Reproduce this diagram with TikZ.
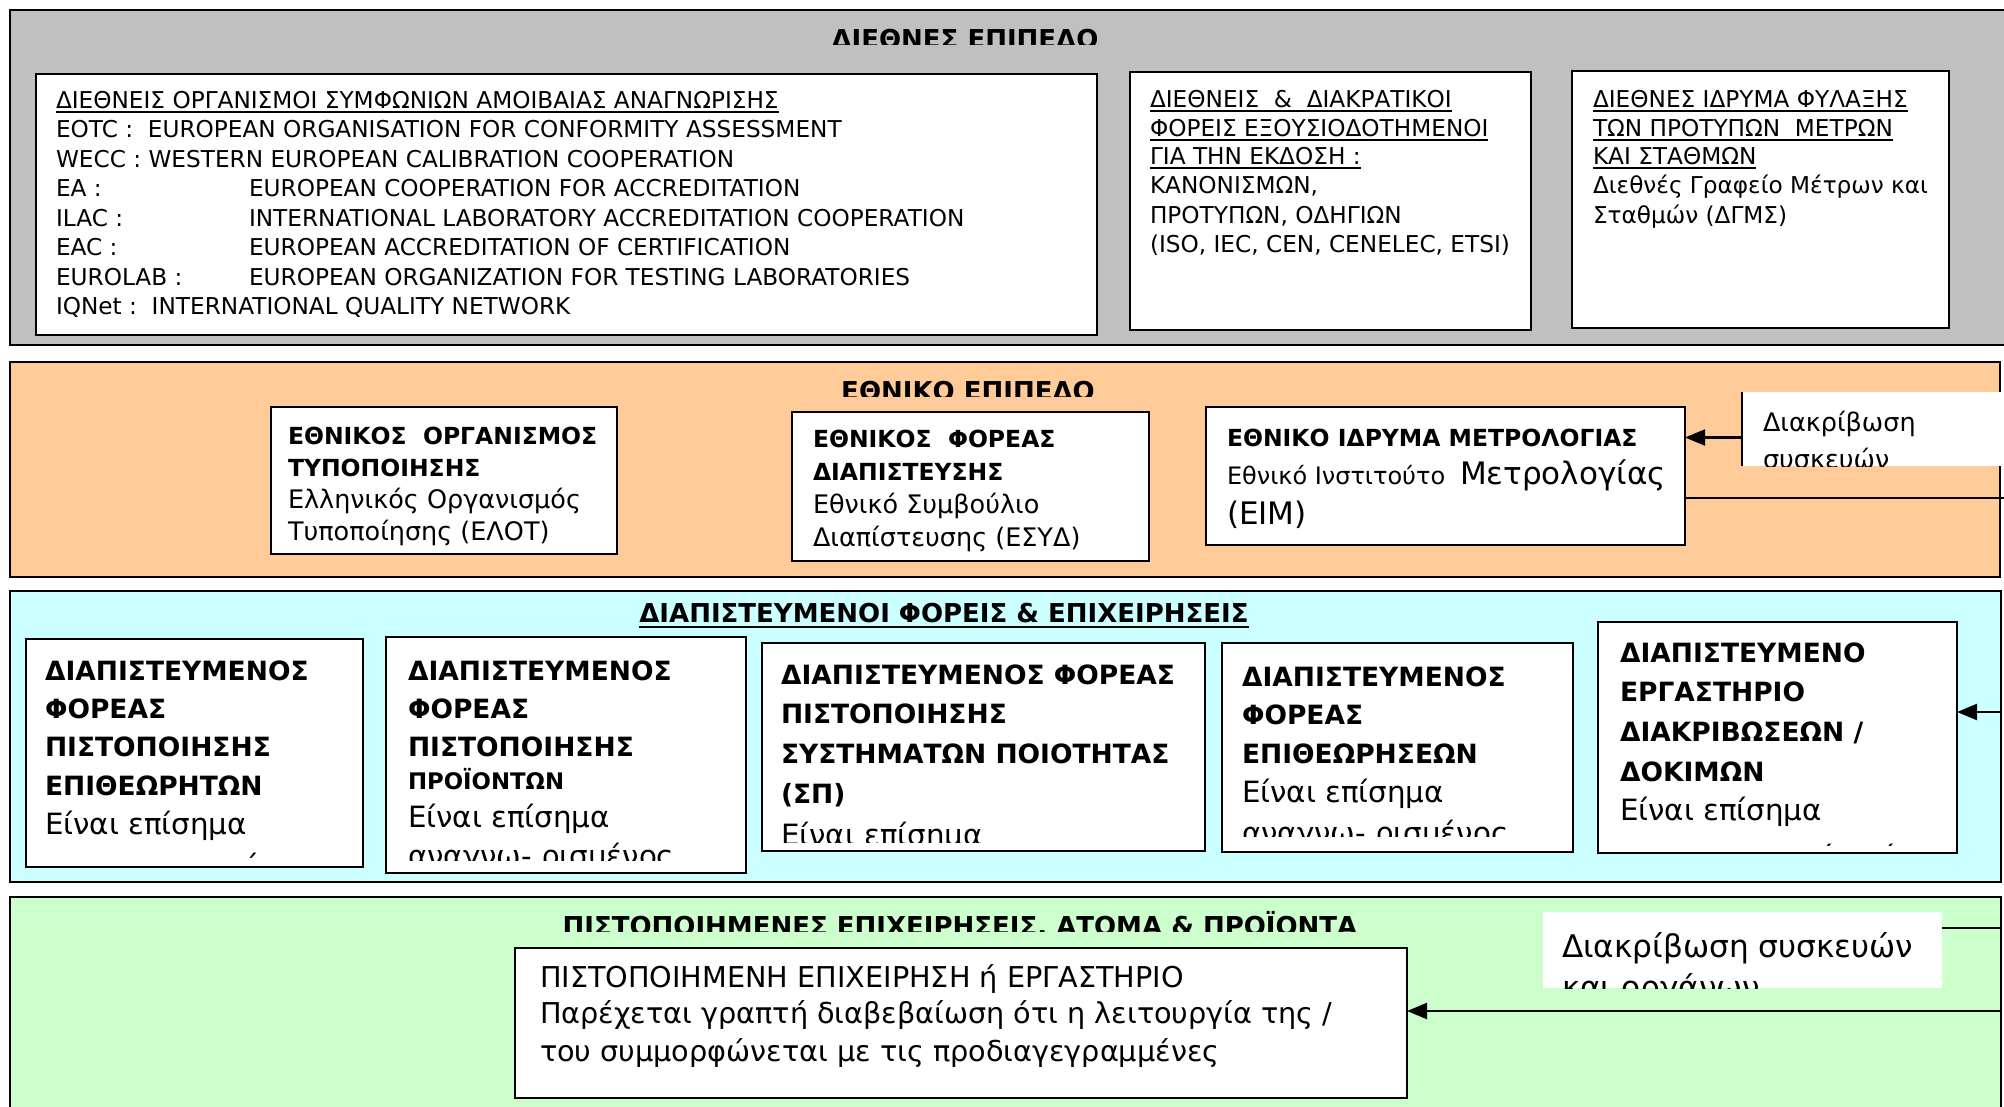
\documentclass[tikz,border=0pt]{standalone}
\usepackage{fontspec}
\setmainfont{DejaVu Sans}
\usetikzlibrary{arrows.meta}
\definecolor{bandgray}{HTML}{C0C0C0}
\definecolor{bandorange}{HTML}{FFCC99}
\definecolor{bandcyan}{HTML}{CCFFFF}
\definecolor{bandgreen}{HTML}{CCFFCC}
\newcommand\tln[5]{\node[tl,#4] (#1) at (#2,#3) {#5};}
\newcommand\uln[1]{\draw[ulstyle] ([yshift=-4pt]#1.base west) -- ([yshift=-4pt]#1.base east);}
\begin{document}
\begin{tikzpicture}[x=1pt,y=-1pt,
  tl/.style={inner sep=0pt,outer sep=0pt,anchor=base west,text=black},
  ctl/.style={inner sep=0pt,outer sep=0pt,anchor=base,text=black},
  band/.style={draw=black,line width=2pt,anchor=north west,inner sep=0pt,outer sep=0pt},
  box/.style={draw=black,line width=2pt,fill=white,anchor=north west,inner sep=0pt,outer sep=0pt},
  plainbox/.style={fill=white,anchor=north west,inner sep=0pt,outer sep=0pt},
  ulstyle/.style={line width=1.5pt},
  conn/.style={line width=2.2pt},
  arr/.style={line width=2.2pt,-{Triangle[length=20pt,width=16pt]}},
  fA/.style={font=\fontsize{23.2}{27}\selectfont},
  fTitle/.style={font=\fontsize{26}{30}\selectfont\bfseries},
  fNb/.style={font=\fontsize{23.5}{28}\selectfont\bfseries},
  fNr/.style={font=\fontsize{25.5}{30}\selectfont},
  fF/.style={font=\fontsize{24}{29}\selectfont},
  fBig/.style={font=\fontsize{31}{36}\selectfont},
  fG/.style={font=\fontsize{25.5}{30}\selectfont},
  fHb/.style={font=\fontsize{26.5}{31}\selectfont\bfseries},
  fHs/.style={font=\fontsize{22.8}{27}\selectfont\bfseries},
  fHr/.style={font=\fontsize{29.3}{34}\selectfont},
  fI/.style={font=\fontsize{28.7}{34}\selectfont},
  fJ/.style={font=\fontsize{31.2}{36}\selectfont}]
\useasboundingbox (0,0) rectangle (2004,1106);
\clip (0,0) rectangle (2004,1106);
\fill[white] (0,0) rectangle (2004,1106);

% bands
\node[band,fill=bandgray,minimum width=2010pt,minimum height=335pt] (gray) at (10,10) {};
\node[band,fill=bandorange,minimum width=1990pt,minimum height=215pt] (orange) at (10,362) {};
\node[band,fill=bandcyan,minimum width=1991pt,minimum height=291pt] (cyan) at (10,591) {};
\node[band,fill=bandgreen,minimum width=1991pt,minimum height=230pt] (green) at (10,897) {};

% boxes
\node[box,minimum width=1061pt,minimum height=261pt] (A) at (36,74) {};
\node[box,minimum width=401pt,minimum height=258pt] (B) at (1130,72) {};
\node[box,minimum width=377pt,minimum height=257pt] (C) at (1572,71) {};
\node[box,minimum width=346pt,minimum height=147pt] (D) at (271,407) {};
\node[box,minimum width=357pt,minimum height=149pt] (E) at (792,412) {};
\node[box,minimum width=479pt,minimum height=138pt] (F) at (1206,407) {};
\node[plainbox,minimum width=280pt,minimum height=74pt] (G) at (1742,392) {};
\draw[line width=2pt] (G.north west) -- (G.south west);
\node[box,minimum width=337pt,minimum height=228pt] (H1) at (26,639) {};
\node[box,minimum width=360pt,minimum height=236pt] (H2) at (386,637) {};
\node[box,minimum width=443pt,minimum height=208pt] (H3) at (762,643) {};
\node[box,minimum width=351pt,minimum height=209pt] (H4) at (1222,643) {};
\node[box,minimum width=359pt,minimum height=231pt] (H5) at (1598,622) {};
\node[box,minimum width=892pt,minimum height=150pt] (I) at (515,948) {};
\node[plainbox,minimum width=399pt,minimum height=76pt] (J) at (1543,912) {};

% titles
\begin{scope}
\clip (10,10) rectangle (2004,44);
\node[ctl,fTitle] (t1) at (965,48) {ΔΙΕΘΝΕΣ ΕΠΙΠΕΔΟ};
\end{scope}
\begin{scope}
\clip (10,362) rectangle (2000,396);
\node[ctl,fTitle] (t2) at (968,400) {ΕΘΝΙΚΟ ΕΠΙΠΕΔΟ};
\end{scope}
\node[ctl,fTitle] (t3) at (944,622) {ΔΙΑΠΙΣΤΕΥΜΕΝΟΙ ΦΟΡΕΙΣ \& ΕΠΙΧΕΙΡΗΣΕΙΣ};
\draw[line width=2pt] ([yshift=-5pt]t3.base west) -- ([yshift=-5pt]t3.base east);
\begin{scope}
\clip (10,897) rectangle (2001,931);
\node[ctl,fTitle] (t4) at (960,935) {ΠΙΣΤΟΠΟΙΗΜΕΝΕΣ ΕΠΙΧΕΙΡΗΣΕΙΣ, ΑΤΟΜΑ \& ΠΡΟΪΟΝΤΑ};
\end{scope}

% box A
\tln{a1}{56}{108}{fA}{ΔΙΕΘΝΕΙΣ ΟΡΓΑΝΙΣΜΟΙ ΣΥΜΦΩΝΙΩΝ ΑΜΟΙΒΑΙΑΣ ΑΝΑΓΝΩΡΙΣΗΣ}
\uln{a1}
\tln{a2}{56}{137}{fA}{EOTC :\ \ EUROPEAN ORGANISATION FOR CONFORMITY ASSESSMENT}
\tln{a3}{56}{167}{fA}{WECC : WESTERN EUROPEAN CALIBRATION COOPERATION}
\tln{a4}{56}{196}{fA}{EA :}
\tln{a4b}{249}{196}{fA}{EUROPEAN COOPERATION FOR ACCREDITATION}
\tln{a5}{56}{226}{fA}{ILAC :}
\tln{a5b}{249}{226}{fA}{INTERNATIONAL LABORATORY ACCREDITATION COOPERATION}
\tln{a6}{56}{255}{fA}{EAC :}
\tln{a6b}{249}{255}{fA}{EUROPEAN ACCREDITATION OF CERTIFICATION}
\tln{a7}{56}{285}{fA}{EUROLAB :}
\tln{a7b}{249}{285}{fA}{EUROPEAN ORGANIZATION FOR TESTING LABORATORIES}
\tln{a8}{56}{314}{fA}{IQNet :\ \ INTERNATIONAL QUALITY NETWORK}

% box B
\tln{b1}{1150}{107}{fA}{ΔΙΕΘΝΕΙΣ\ \ \&\ \ ΔΙΑΚΡΑΤΙΚΟΙ}
\uln{b1}
\tln{b2}{1150}{136}{fA}{ΦΟΡΕΙΣ ΕΞΟΥΣΙΟΔΟΤΗΜΕΝΟΙ}
\uln{b2}
\tln{b3}{1150}{164}{fA}{ΓΙΑ ΤΗΝ ΕΚΔΟΣΗ :}
\uln{b3}
\tln{b4}{1150}{193}{fA}{ΚΑΝΟΝΙΣΜΩΝ,}
\tln{b5}{1150}{223}{fA}{ΠΡΟΤΥΠΩΝ, ΟΔΗΓΙΩΝ}
\tln{b6}{1150}{252}{fA}{(ISO, IEC, CEN, CENELEC, ETSI)}

% box C
\tln{c1}{1593}{107}{fA}{ΔΙΕΘΝΕΣ ΙΔΡΥΜΑ ΦΥΛΑΞΗΣ}
\uln{c1}
\tln{c2}{1593}{136}{fA}{ΤΩΝ ΠΡΟΤΥΠΩΝ\ \ ΜΕΤΡΩΝ}
\uln{c2}
\tln{c3}{1593}{164}{fA}{ΚΑΙ ΣΤΑΘΜΩΝ}
\uln{c3}
\tln{c4}{1593}{193}{fA}{Διεθνές Γραφείο Μέτρων και}
\tln{c5}{1593}{223}{fA}{Σταθμών (ΔΓΜΣ)}

% box D
\tln{d1}{288}{444}{fNb}{ΕΘΝΙΚΟΣ\ \ ΟΡΓΑΝΙΣΜΟΣ}
\tln{d2}{288}{476}{fNb}{ΤΥΠΟΠΟΙΗΣΗΣ}
\tln{d3}{288}{508}{fNr}{Ελληνικός Οργανισμός}
\tln{d4}{288}{540}{fNr}{Τυποποίησης (ΕΛΟΤ)}

% box E
\tln{e1t}{813}{447}{fNb}{ΕΘΝΙΚΟΣ\ \ ΦΟΡΕΑΣ}
\tln{e2t}{813}{480}{fNb}{ΔΙΑΠΙΣΤΕΥΣΗΣ}
\tln{e3t}{813}{513}{fNr}{Εθνικό Συμβούλιο}
\tln{e4t}{813}{546}{fNr}{Διαπίστευσης (ΕΣΥΔ)}

% box F
\tln{f1}{1227}{446}{fNb}{ΕΘΝΙΚΟ ΙΔΡΥΜΑ ΜΕΤΡΟΛΟΓΙΑΣ}
\tln{f2}{1227}{484}{fF}{Εθνικό Ινστιτούτο}
\tln{f2b}{1460}{484}{fBig}{Μετρολογίας}
\tln{f3}{1227}{524}{fBig}{(ΕΙΜ)}

% box G
\begin{scope}
\clip (1742,392) rectangle (2004,466);
\tln{g1}{1763}{431}{fG}{Διακρίβωση}
\tln{g2}{1763}{468}{fG}{συσκευών}
\end{scope}

% box H1
\begin{scope}
\clip (26,639) rectangle (363,858);
\tln{h11}{45}{680}{fHb}{ΔΙΑΠΙΣΤΕΥΜΕΝΟΣ}
\tln{h12}{45}{718}{fHb}{ΦΟΡΕΑΣ}
\tln{h13}{45}{756}{fHb}{ΠΙΣΤΟΠΟΙΗΣΗΣ}
\tln{h14}{45}{795}{fHb}{ΕΠΙΘΕΩΡΗΤΩΝ}
\tln{h15}{45}{834}{fHr}{Είναι επίσημα}
\tln{h16}{45}{876}{fHr}{αναγνω- ρισμένος}
\end{scope}

% box H2
\begin{scope}
\clip (386,637) rectangle (746,860);
\tln{h21}{408}{680}{fHb}{ΔΙΑΠΙΣΤΕΥΜΕΝΟΣ}
\tln{h22}{408}{718}{fHb}{ΦΟΡΕΑΣ}
\tln{h23}{408}{756}{fHb}{ΠΙΣΤΟΠΟΙΗΣΗΣ}
\tln{h24}{408}{789}{fHs}{ΠΡΟΪΟΝΤΩΝ}
\tln{h25}{408}{827}{fHr}{Είναι επίσημα}
\tln{h26}{408}{866}{fHr}{αναγνω- ρισμένος}
\end{scope}

% box H3
\begin{scope}
\clip (762,643) rectangle (1205,842);
\tln{h31}{781}{684}{fHb}{ΔΙΑΠΙΣΤΕΥΜΕΝΟΣ ΦΟΡΕΑΣ}
\tln{h32}{781}{723}{fHb}{ΠΙΣΤΟΠΟΙΗΣΗΣ}
\tln{h33}{781}{763}{fHb}{ΣΥΣΤΗΜΑΤΩΝ ΠΟΙΟΤΗΤΑΣ}
\tln{h34}{781}{803}{fHb}{(ΣΠ)}
\tln{h35}{781}{845}{fHr}{Είναι επίσημα}
\end{scope}

% box H4
\begin{scope}
\clip (1222,643) rectangle (1573,836);
\tln{h41}{1242}{686}{fHb}{ΔΙΑΠΙΣΤΕΥΜΕΝΟΣ}
\tln{h42}{1242}{724}{fHb}{ΦΟΡΕΑΣ}
\tln{h43}{1242}{763}{fHb}{ΕΠΙΘΕΩΡΗΣΕΩΝ}
\tln{h44}{1242}{802}{fHr}{Είναι επίσημα}
\tln{h45}{1242}{843}{fHr}{αναγνω- ρισμένος}
\end{scope}

% box H5
\begin{scope}
\clip (1598,622) rectangle (1957,845);
\tln{h51}{1620}{662}{fHb}{ΔΙΑΠΙΣΤΕΥΜΕΝΟ}
\tln{h52}{1620}{701}{fHb}{ΕΡΓΑΣΤΗΡΙΟ}
\tln{h53}{1620}{741}{fHb}{ΔΙΑΚΡΙΒΩΣΕΩΝ /}
\tln{h54}{1620}{781}{fHb}{ΔΟΚΙΜΩΝ}
\tln{h55}{1620}{820}{fHr}{Είναι επίσημα}
\tln{h56}{1620}{867}{fHr}{αναγνω- ρισμένο ή}
\end{scope}

% box I
\tln{i1}{540}{987}{fI}{ΠΙΣΤΟΠΟΙΗΜΕΝΗ ΕΠΙΧΕΙΡΗΣΗ ή ΕΡΓΑΣΤΗΡΙΟ}
\tln{i2}{540}{1023}{fI}{Παρέχεται γραπτή διαβεβαίωση ότι η λειτουργία της /}
\tln{i3}{540}{1061}{fI}{του συμμορφώνεται με τις προδιαγεγραμμένες}

% box J
\begin{scope}
\clip (1543,912) rectangle (1942,988);
\tln{j1}{1562}{957}{fJ}{Διακρίβωση συσκευών}
\tln{j2}{1562}{998}{fJ}{και οργάνων}
\end{scope}

% connectors
\draw[arr] ([yshift=-8.5pt]G.west) -- ([yshift=-8.5pt]G.west -| F.east);
\coordinate (r1) at (2010,498);
\draw[conn] (F.east |- r1) -- (r1);
\coordinate (r2) at (2001,712);
\draw[arr] (r2) -- (r2 -| H5.east);
\coordinate (r3) at (2001,928);
\draw[conn] (J.east |- r3) -- (r3);
\coordinate (r4) at (2001,1011);
\draw[arr] (r4) -- (r4 -| I.east);
\end{tikzpicture}
\end{document}
